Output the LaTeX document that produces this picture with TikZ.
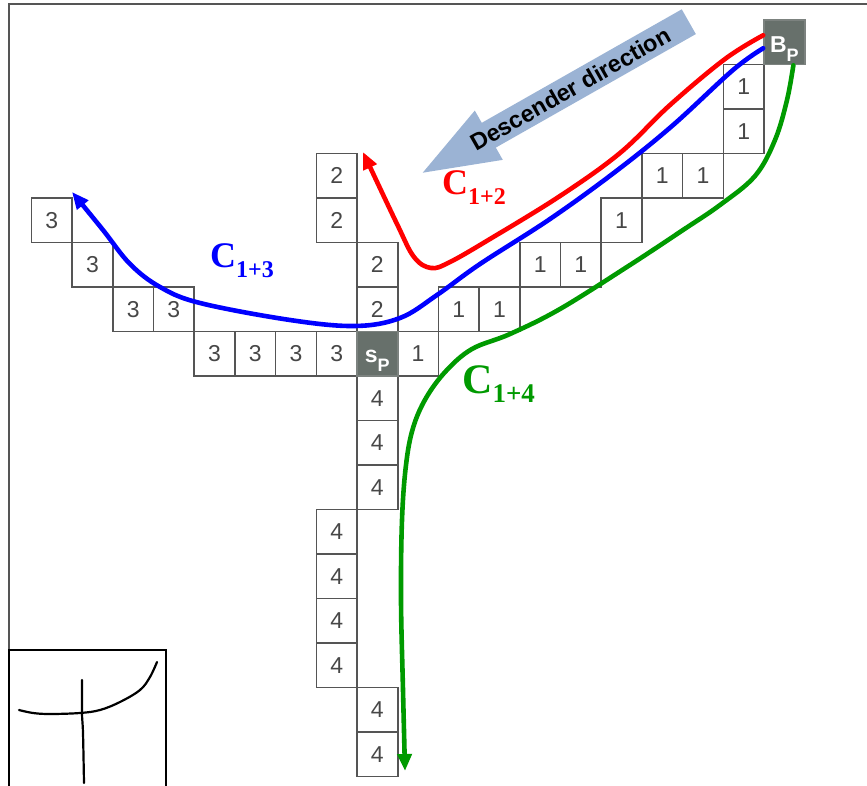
\documentclass[tikz,border=0pt]{standalone}
\usepackage{fontspec}
\setmainfont{Liberation Sans}
\newfontfamily\serifbold{Liberation Serif}
\usetikzlibrary{arrows.meta,calc}
\definecolor{cellline}{HTML}{555555}
\definecolor{celltext}{HTML}{474747}
\definecolor{darkcell}{HTML}{67706B}
\definecolor{darkline}{HTML}{7C827F}
\definecolor{arrowblue}{HTML}{9BB3D4}
\definecolor{cgreen}{HTML}{009A00}
\definecolor{framegray}{HTML}{555555}
\begin{document}
\begin{tikzpicture}[x=1pt,y=-1pt,
  cellbox/.style={draw=cellline, line width=1.6pt, minimum width=40.7pt, minimum height=44.5pt,
    inner sep=0pt, text=celltext, font=\fontsize{23}{23}\selectfont},
  darkbox/.style={cellbox, fill=darkcell, draw=darkline},
  whitelabel/.style={anchor=base, inner sep=0pt, text=white, font=\bfseries\fontsize{23}{23}\selectfont},
  pathcurve/.style={line width=4.6pt, line cap=round, line join=round, -{Triangle[length=17pt,width=14pt]}},
  clabel/.style={anchor=base west, inner sep=0pt, font=\serifbold\bfseries\fontsize{36}{36}\selectfont},
  sketch/.style={line width=2.2pt, line cap=round, line join=round}]
\useasboundingbox (0,0) rectangle (867,786);

% frame
\draw[framegray, line width=1.3pt] (867,4) -- (9,4) -- (9,786);

% descender direction arrow
\begin{scope}[shift={(688.8,21.7)}, x={(-0.8696pt,-0.4935pt)}, y={(0.4935pt,-0.8696pt)}]
  \fill[arrowblue] (0,-14.25) -- (230,-14.25) -- (230,-28.35) -- (306,0) -- (230,28.35) -- (230,14.25) -- (0,14.25) -- cycle;
  \node[rotate=29.57, inner sep=0pt, font=\bfseries\fontsize{23.5}{24}\selectfont] (desc) at (136,0) {Descender direction};
\end{scope}

% cells
\foreach \c/\r/\t [count=\i] in {
  -4/0/3, -3/0/3, -2/0/3, -1/0/3, 1/0/1,
  -6/-1/3, -5/-1/3, 0/-1/2, 2/-1/1, 3/-1/1,
  -7/-2/3, 0/-2/2, 4/-2/1, 5/-2/1,
  -8/-3/3, -1/-3/2, 6/-3/1,
  -1/-4/2, 7/-4/1, 8/-4/1,
  9/-5/1, 9/-6/1,
  0/1/4, 0/2/4, 0/3/4, -1/4/4, -1/5/4, -1/6/4, -1/7/4, 0/8/4, 0/9/4}
  \node[cellbox] (cell\i) at ({357+40.7*(\c+0.5)},{331.5+44.5*(\r+0.5)}) {\t};

\node[darkbox] (sp) at ({357+40.7*0.5},{331.5+44.5*0.5}) {};
\node[darkbox] (Bp) at ({357+40.7*10.5},{331.5+44.5*(-6.5)}) {};
\node[whitelabel] (spText) at ($(sp.center)+(0,9)$) {s\raisebox{-9pt}{\fontsize{18}{18}\selectfont P}};
\node[whitelabel] (BpText) at ($(Bp.center)+(0,10.5)$) {B\raisebox{-8.5pt}{\fontsize{18}{18}\selectfont P}};

% path end points
\coordinate (tipR) at (363,152);
\coordinate (tipB) at (72,192);
\coordinate (tipG) at (405,771);

% curves
\draw[pathcurve, red] plot[smooth, tension=0.6] coordinates {
  ([yshift=7pt]Bp.west) (725,59) (670,105) (620,153) (560,196) (490,239) (450,262)
  (431,268) (414,257) (397,224) (tipR)};
\draw[pathcurve, blue] plot[smooth, tension=0.6] coordinates {
  ([yshift=-6pt]Bp.west) (733,70) (672,126) (615,172) (550,219) (480,264) (437,295)
  (400,318) (355,326) (290,320) (200,303) (160,287) (130,264) (103,230) (tipB)};
\draw[pathcurve, cgreen] plot[smooth, tension=0.6] coordinates {
  ([xshift=9pt]Bp.south) (787,100) (775,140) (755,176) (720,205) (683,230) (630,265)
  (560,309) (510,334) (472,349) (446,371) (426,398) (413,428) (406,465) (402,520)
  (401,600) (403,690) (tipG)};

% curve labels
\node[clabel, text=red] (c12) at (442,195) {C\raisebox{-10pt}{\fontsize{24}{24}\selectfont 1+2}};
\node[clabel, text=blue] (c13) at (210,268) {C\raisebox{-10pt}{\fontsize{24}{24}\selectfont 1+3}};
\node[clabel, text=cgreen, font=\serifbold\bfseries\fontsize{42}{42}\selectfont] (c14) at (462,393) {C\raisebox{-9pt}{\fontsize{27}{27}\selectfont 1+4}};

% inset sketch
\draw[black, line width=1.3pt] (9,786) -- (9,650) -- (166,650) -- (166,786);
\draw[sketch] plot[smooth, tension=0.6] coordinates {(19,710) (33,713) (50,714) (80,713) (100,710) (120,702) (140,690) (150,677) (157,662)};
\draw[sketch] plot[smooth, tension=0.6] coordinates {(82,680) (82,713) (83,733) (84,783)};
\end{tikzpicture}
\end{document}
